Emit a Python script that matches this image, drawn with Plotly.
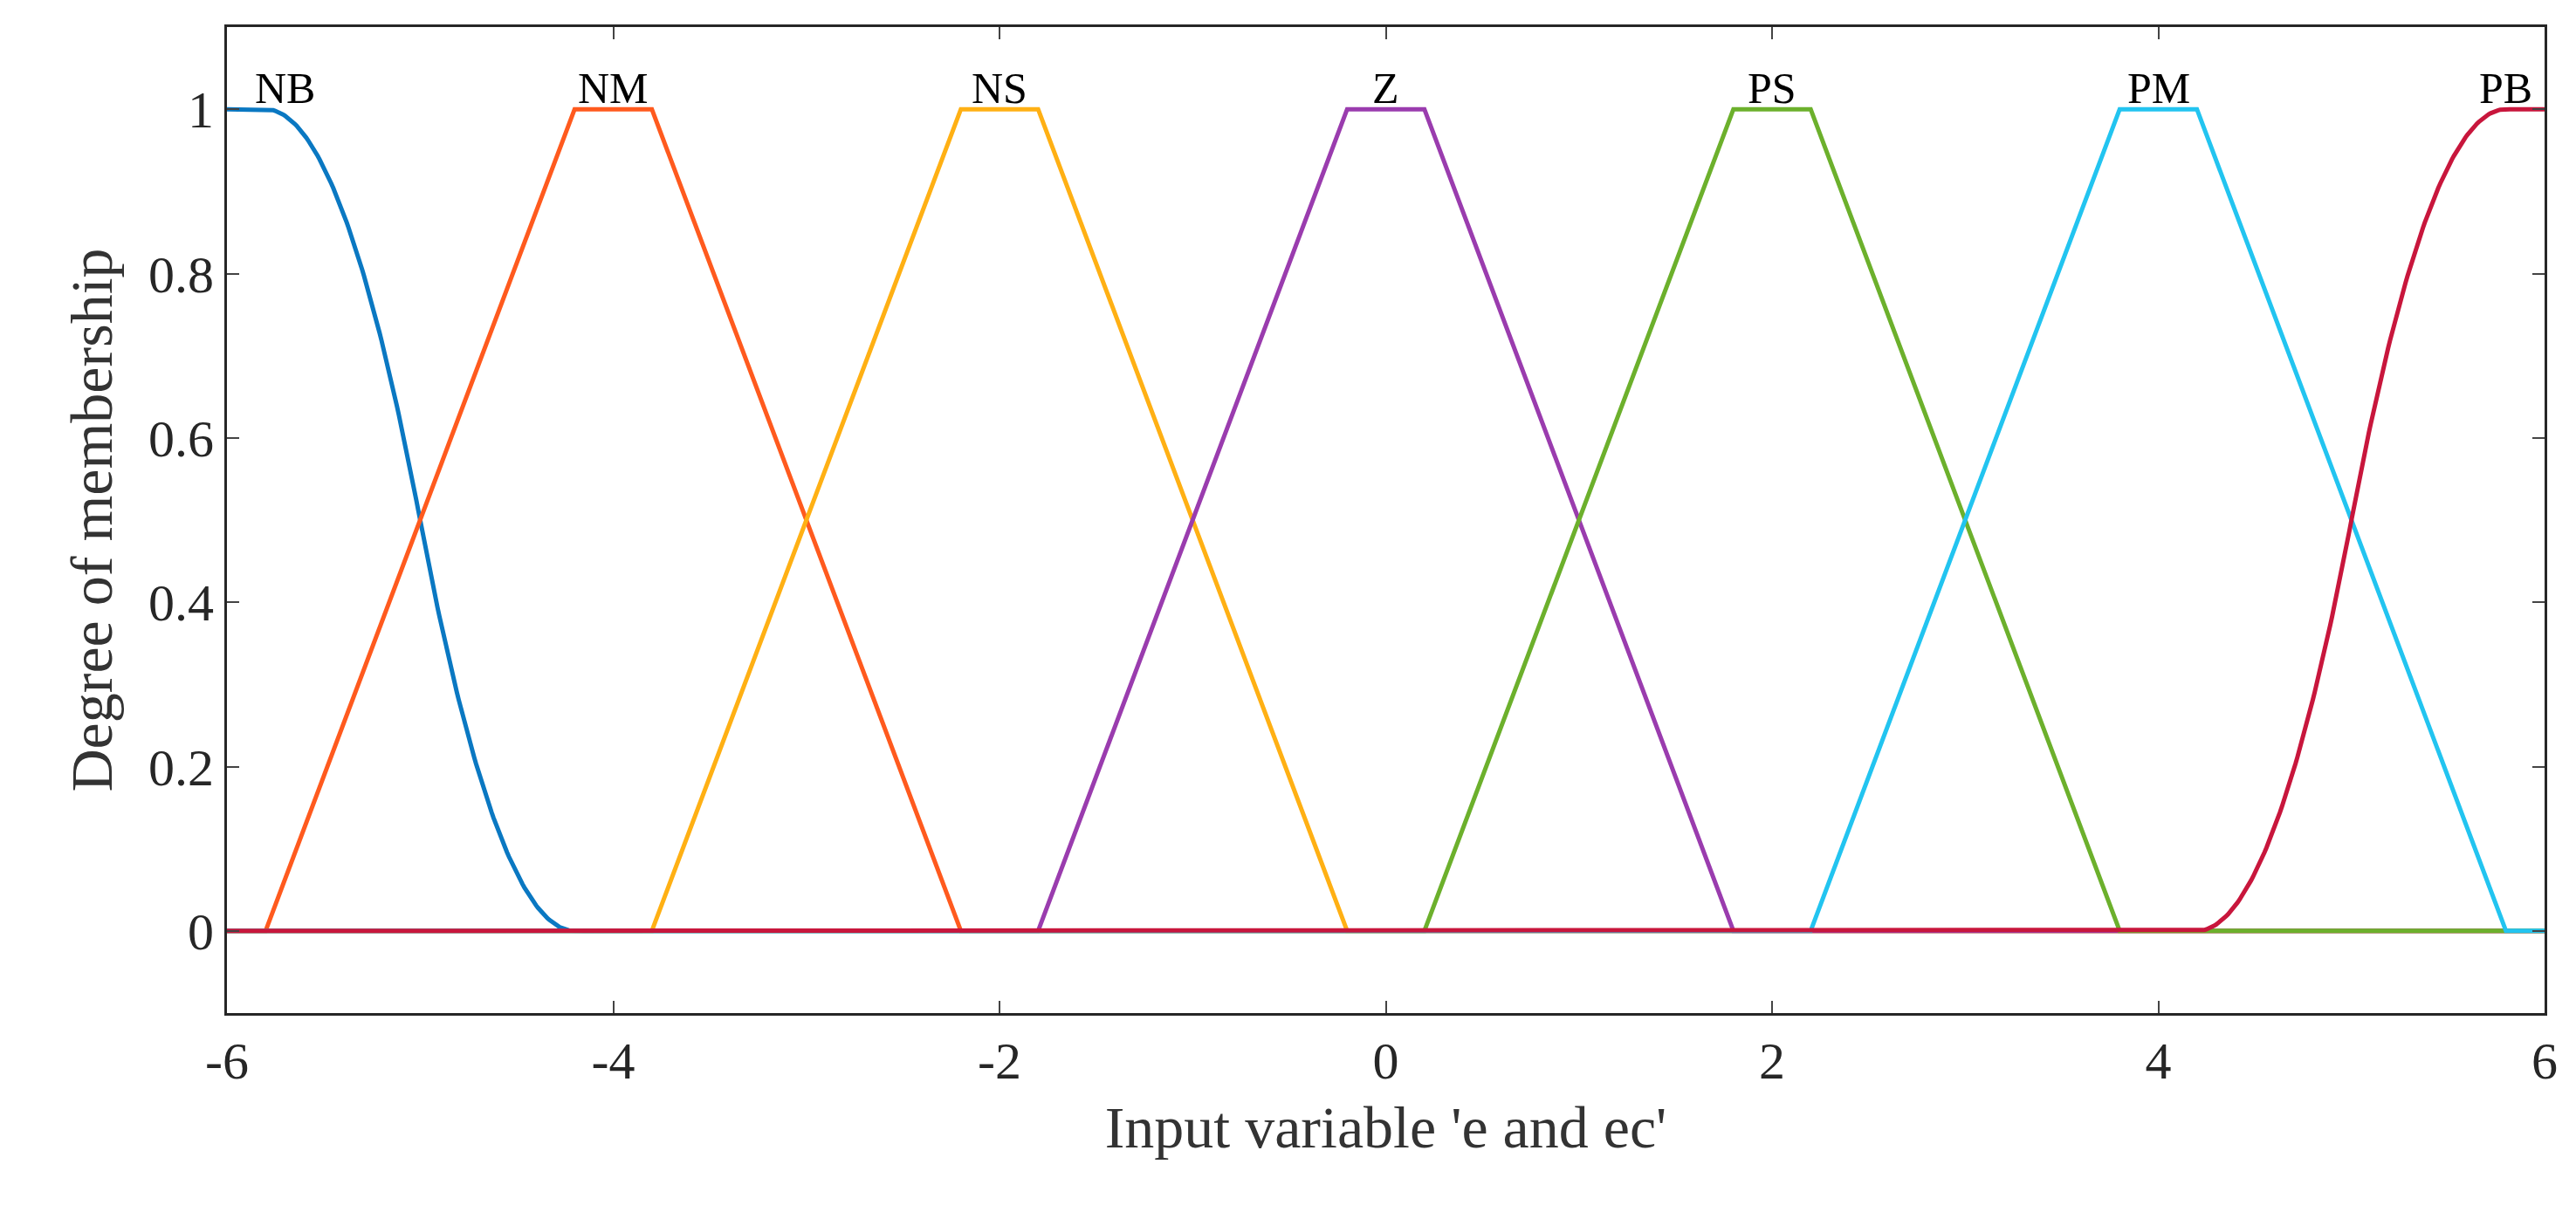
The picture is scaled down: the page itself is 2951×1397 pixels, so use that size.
import numpy as np
import plotly.graph_objects as go

names = ["NB", "NM", "NS", "Z", "PS", "PM", "PB"]
colors = ["#0a78c2", "#ff5a1e", "#ffb014", "#9a3cae", "#6cb02c", "#22c4f0", "#c8163c"]
# trapezoid vertices for the middle sets
trap_params = {
    "NM": [-5.8, -4.2, -3.8, -2.2],
    "NS": [-3.8, -2.2, -1.8, -0.2],
    "Z": [-1.8, -0.2, 0.2, 1.8],
    "PS": [0.2, 1.8, 2.2, 3.8],
    "PM": [2.2, 3.8, 4.2, 5.8],
}
zmf_params = [-5.8, -4.2]  # NB
smf_params = [4.2, 5.8]    # PB
label_x = [-5.7, -4, -2, 0, 2, 4, 5.8]
x_ticks = [-6, -4, -2, 0, 2, 4, 6]
x_ticklabels = ["-6", "-4", "-2", "0", "2", "4", "6"]
y_ticks = [0, 0.2, 0.4, 0.6, 0.8, 1]
y_ticklabels = ["0", "0.2", "0.4", "0.6", "0.8", "1"]
xmin, xmax = -6, 6

def smf(x, a, b):
    m = (a + b) / 2
    y = np.where(x <= a, 0.0,
        np.where(x <= m, 2 * ((x - a) / (b - a)) ** 2,
        np.where(x <= b, 1 - 2 * ((x - b) / (b - a)) ** 2, 1.0)))
    return y

fig = go.Figure()
xs = np.linspace(xmin, xmax, 1201)
for n, c in zip(names, colors):
    if n == "NB":
        x, y = xs, 1 - smf(xs, *zmf_params)
    elif n == "PB":
        x, y = xs, smf(xs, *smf_params)
    else:
        a, b, cc, d = trap_params[n]
        x = [xmin, a, b, cc, d, xmax]
        y = [0, 0, 1, 1, 0, 0]
    fig.add_trace(go.Scatter(x=x, y=y, mode="lines", line=dict(color=c, width=5),
                             showlegend=False))
for n, lx in zip(names, label_x):
    fig.add_annotation(x=lx, y=1.0, text=n, showarrow=False, yanchor="bottom",
                       yshift=-6, font=dict(size=50, color="black"))

ax = dict(showgrid=False, zeroline=False, mirror="ticks", ticks="inside", ticklen=14,
          tickwidth=2, linecolor="#262626", linewidth=3, showline=True,
          tickfont=dict(size=60, color="#262626"))
fig.update_xaxes(**ax, range=[xmin, xmax], tickvals=x_ticks, ticktext=x_ticklabels,
                 title=dict(text="Input variable 'e and ec'", font=dict(size=68, color="#333"),
                            standoff=20))
fig.update_yaxes(**ax, range=[-0.1, 1.1], tickvals=y_ticks, ticktext=y_ticklabels,
                 title=dict(text="Degree of membership", font=dict(size=68, color="#333"),
                            standoff=20))
fig.update_layout(width=2951, height=1397, plot_bgcolor="white", paper_bgcolor="white",
                  font=dict(family="Liberation Serif"),
                  margin=dict(l=252, r=44, t=23, b=244))
fig.write_html("out.html")
